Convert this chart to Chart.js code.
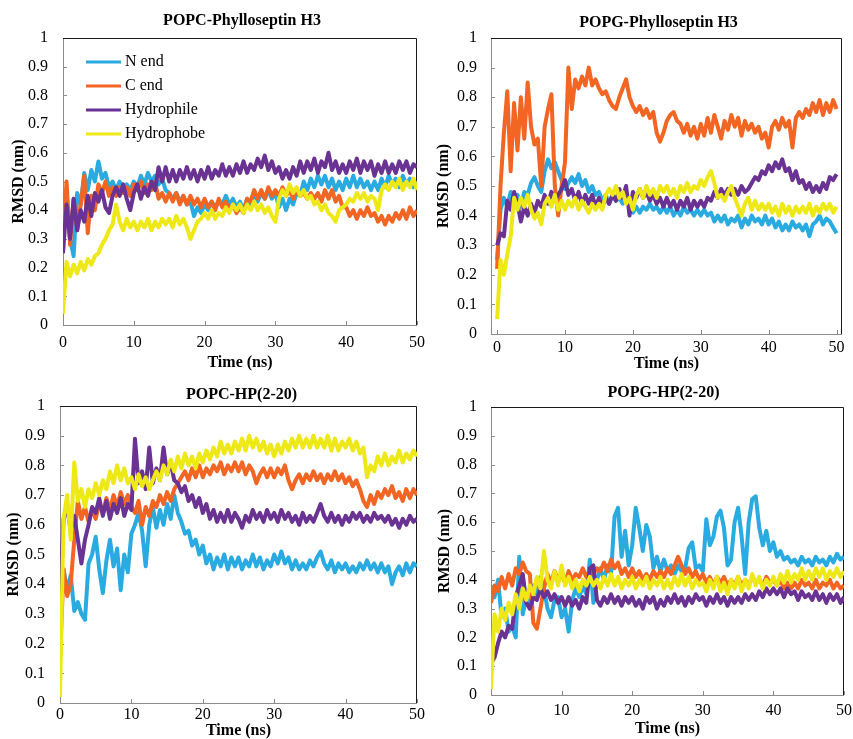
<!DOCTYPE html>
<html>
<head>
<meta charset="utf-8">
<script src="https://cdn.jsdelivr.net/npm/chart.js@4.4.0/dist/chart.umd.min.js"></script>
<style>
  body { margin: 0; background: #fff; width: 853px; height: 739px; overflow: hidden; position: relative; }
  canvas { position: absolute; }
</style>
</head>
<body>
<canvas id="popcH3" width="430" height="380" style="left:0;top:0"></canvas>
<canvas id="popgH3" width="423" height="380" style="left:430px;top:0"></canvas>
<canvas id="popcHP" width="430" height="372" style="left:0;top:372px"></canvas>
<canvas id="popgHP" width="423" height="372" style="left:430px;top:372px"></canvas>
<script>
const times = [
  0, 0.5, 1, 1.5, 2, 2.5, 3, 3.5, 4, 4.5,
  5, 5.5, 6, 6.5, 7, 7.5, 8, 8.5, 9, 9.5,
  10, 10.5, 11, 11.5, 12, 12.5, 13, 13.5, 14, 14.5,
  15, 15.5, 16, 16.5, 17, 17.5, 18, 18.5, 19, 19.5,
  20, 20.5, 21, 21.5, 22, 22.5, 23, 23.5, 24, 24.5,
  25, 25.5, 26, 26.5, 27, 27.5, 28, 28.5, 29, 29.5,
  30, 30.5, 31, 31.5, 32, 32.5, 33, 33.5, 34, 34.5,
  35, 35.5, 36, 36.5, 37, 37.5, 38, 38.5, 39, 39.5,
  40, 40.5, 41, 41.5, 42, 42.5, 43, 43.5, 44, 44.5,
  45, 45.5, 46, 46.5, 47, 47.5, 48, 48.5, 49, 49.5,
  50
];
const seriesNames = ["N end", "C end", "Hydrophile", "Hydrophobe"];
const seriesColors = ["#29aae1", "#f26522", "#6a3292", "#eee816"];
const xTicks = [0, 10, 20, 30, 40, 50];
const yTicks = [0, 0.1, 0.2, 0.3, 0.4, 0.5, 0.6, 0.7, 0.8, 0.9, 1];

// POPC - Phylloseptin H3 (RMSD, nm)
const popcH3NEnd = [
  0.38,0.44,0.30,0.24,0.46,0.42,0.53,0.47,0.54,0.50,
  0.57,0.51,0.53,0.48,0.50,0.47,0.50,0.46,0.49,0.47,
  0.50,0.48,0.52,0.49,0.53,0.50,0.52,0.49,0.51,0.47,
  0.46,0.44,0.46,0.43,0.45,0.42,0.43,0.38,0.41,0.39,
  0.42,0.40,0.43,0.41,0.43,0.42,0.45,0.42,0.44,0.41,
  0.43,0.40,0.44,0.42,0.46,0.43,0.46,0.44,0.47,0.44,
  0.46,0.41,0.44,0.40,0.44,0.42,0.46,0.45,0.50,0.47,
  0.51,0.48,0.52,0.49,0.52,0.48,0.51,0.47,0.50,0.47,
  0.51,0.48,0.52,0.48,0.51,0.48,0.50,0.47,0.50,0.47,
  0.51,0.48,0.52,0.49,0.51,0.48,0.52,0.49,0.51,0.48,
  0.50
];
const popcH3CEnd = [
  0.30,0.50,0.28,0.44,0.33,0.42,0.52,0.32,0.45,0.40,
  0.49,0.46,0.50,0.45,0.48,0.45,0.48,0.46,0.48,0.45,
  0.49,0.47,0.50,0.46,0.49,0.47,0.50,0.44,0.46,0.43,
  0.46,0.43,0.46,0.42,0.45,0.42,0.45,0.42,0.44,0.41,
  0.44,0.41,0.43,0.40,0.44,0.41,0.43,0.40,0.42,0.39,
  0.41,0.39,0.44,0.43,0.47,0.44,0.47,0.44,0.48,0.45,
  0.47,0.45,0.48,0.45,0.47,0.44,0.47,0.45,0.46,0.44,
  0.46,0.44,0.46,0.43,0.47,0.44,0.47,0.43,0.45,0.41,
  0.41,0.38,0.40,0.37,0.40,0.38,0.41,0.38,0.39,0.36,
  0.38,0.35,0.38,0.36,0.39,0.37,0.40,0.37,0.41,0.38,
  0.40
];
const popcH3Philic = [
  0.25,0.42,0.30,0.44,0.33,0.40,0.36,0.45,0.38,0.46,
  0.43,0.47,0.41,0.39,0.45,0.48,0.45,0.49,0.44,0.40,
  0.46,0.49,0.44,0.48,0.45,0.50,0.47,0.55,0.50,0.55,
  0.50,0.54,0.50,0.54,0.51,0.55,0.51,0.54,0.50,0.54,
  0.51,0.55,0.51,0.54,0.52,0.56,0.52,0.55,0.52,0.56,
  0.53,0.57,0.53,0.56,0.54,0.58,0.55,0.59,0.54,0.57,
  0.53,0.55,0.51,0.54,0.51,0.55,0.52,0.57,0.53,0.57,
  0.54,0.58,0.53,0.57,0.55,0.60,0.54,0.57,0.53,0.56,
  0.53,0.57,0.54,0.58,0.53,0.57,0.54,0.57,0.52,0.56,
  0.53,0.57,0.53,0.56,0.53,0.57,0.54,0.57,0.53,0.56,
  0.55
];
const popcH3Phobic = [
  0.04,0.22,0.17,0.21,0.18,0.22,0.19,0.23,0.21,0.24,
  0.25,0.28,0.30,0.33,0.35,0.42,0.36,0.33,0.37,0.34,
  0.36,0.33,0.36,0.34,0.37,0.33,0.36,0.34,0.37,0.35,
  0.37,0.34,0.38,0.35,0.37,0.34,0.30,0.33,0.36,0.37,
  0.39,0.37,0.40,0.37,0.39,0.38,0.41,0.39,0.42,0.40,
  0.42,0.39,0.42,0.40,0.43,0.40,0.42,0.39,0.41,0.38,
  0.36,0.44,0.47,0.45,0.49,0.46,0.48,0.45,0.47,0.44,
  0.45,0.42,0.43,0.40,0.42,0.39,0.38,0.36,0.40,0.41,
  0.42,0.44,0.43,0.46,0.44,0.46,0.43,0.45,0.44,0.40,
  0.47,0.49,0.47,0.50,0.48,0.51,0.47,0.50,0.48,0.51,
  0.47
];

// POPG - Phylloseptin H3
const popgH3NEnd = [
  0.25,0.42,0.46,0.43,0.48,0.44,0.47,0.43,0.48,0.47,
  0.51,0.53,0.50,0.48,0.55,0.59,0.56,0.58,0.55,0.52,
  0.49,0.51,0.53,0.51,0.54,0.50,0.52,0.48,0.50,0.47,
  0.48,0.45,0.47,0.44,0.47,0.45,0.46,0.44,0.46,0.44,
  0.41,0.43,0.41,0.43,0.42,0.44,0.42,0.43,0.41,0.43,
  0.41,0.43,0.40,0.42,0.40,0.43,0.41,0.42,0.40,0.42,
  0.40,0.42,0.40,0.41,0.38,0.40,0.38,0.40,0.37,0.39,
  0.38,0.40,0.36,0.39,0.37,0.40,0.38,0.39,0.37,0.40,
  0.37,0.39,0.36,0.38,0.35,0.37,0.35,0.38,0.36,0.37,
  0.35,0.37,0.33,0.37,0.38,0.40,0.37,0.39,0.38,0.36,
  0.34
];
const popgH3CEnd = [
  0.22,0.50,0.68,0.82,0.55,0.78,0.62,0.80,0.66,0.85,
  0.70,0.64,0.66,0.50,0.70,0.76,0.81,0.50,0.40,0.50,
  0.58,0.90,0.76,0.86,0.83,0.87,0.84,0.90,0.84,0.86,
  0.83,0.81,0.82,0.79,0.77,0.76,0.80,0.83,0.86,0.80,
  0.77,0.75,0.77,0.74,0.76,0.73,0.75,0.68,0.65,0.68,
  0.72,0.74,0.75,0.72,0.71,0.68,0.71,0.67,0.70,0.66,
  0.71,0.67,0.73,0.68,0.74,0.70,0.66,0.72,0.69,0.74,
  0.70,0.73,0.67,0.72,0.69,0.71,0.68,0.70,0.66,0.68,
  0.63,0.70,0.72,0.69,0.73,0.70,0.72,0.63,0.73,0.75,
  0.73,0.76,0.74,0.78,0.75,0.79,0.74,0.78,0.75,0.79,
  0.76
];
const popgH3Philic = [
  0.30,0.34,0.33,0.45,0.42,0.48,0.44,0.38,0.43,0.40,
  0.44,0.41,0.45,0.43,0.47,0.44,0.48,0.45,0.47,0.49,
  0.52,0.47,0.49,0.45,0.48,0.44,0.47,0.44,0.47,0.43,
  0.46,0.43,0.46,0.44,0.47,0.45,0.49,0.46,0.50,0.40,
  0.48,0.46,0.49,0.46,0.48,0.45,0.47,0.44,0.46,0.43,
  0.46,0.43,0.45,0.42,0.45,0.43,0.46,0.42,0.45,0.43,
  0.45,0.43,0.46,0.45,0.48,0.46,0.49,0.47,0.49,0.47,
  0.49,0.47,0.50,0.48,0.49,0.51,0.53,0.52,0.55,0.54,
  0.57,0.55,0.58,0.56,0.59,0.55,0.56,0.52,0.55,0.51,
  0.52,0.49,0.51,0.48,0.50,0.48,0.51,0.49,0.53,0.52,
  0.54
];
const popgH3Phobic = [
  0.05,0.25,0.20,0.27,0.33,0.46,0.42,0.46,0.43,0.47,
  0.42,0.39,0.41,0.37,0.44,0.46,0.43,0.47,0.42,0.45,
  0.42,0.45,0.43,0.46,0.42,0.45,0.43,0.41,0.44,0.42,
  0.44,0.42,0.47,0.49,0.47,0.50,0.46,0.48,0.44,0.46,
  0.42,0.47,0.49,0.46,0.50,0.47,0.49,0.46,0.50,0.48,
  0.50,0.47,0.49,0.46,0.50,0.48,0.51,0.48,0.50,0.49,
  0.52,0.50,0.53,0.55,0.51,0.46,0.47,0.45,0.48,0.50,
  0.46,0.43,0.40,0.44,0.46,0.42,0.45,0.42,0.44,0.42,
  0.44,0.41,0.43,0.40,0.44,0.41,0.43,0.40,0.43,0.41,
  0.43,0.41,0.44,0.40,0.43,0.41,0.44,0.42,0.44,0.41,
  0.43
];

// POPC - HP(2-20)
const popcHPNEnd = [
  0.42,0.45,0.38,0.43,0.31,0.34,0.30,0.28,0.47,0.50,
  0.56,0.45,0.37,0.48,0.55,0.46,0.52,0.38,0.50,0.44,
  0.57,0.60,0.64,0.58,0.46,0.60,0.66,0.59,0.65,0.60,
  0.67,0.62,0.70,0.64,0.61,0.57,0.58,0.53,0.55,0.50,
  0.53,0.47,0.50,0.45,0.49,0.46,0.50,0.45,0.49,0.46,
  0.49,0.45,0.48,0.46,0.50,0.46,0.49,0.45,0.48,0.46,
  0.50,0.47,0.51,0.47,0.49,0.45,0.48,0.45,0.47,0.45,
  0.48,0.46,0.49,0.51,0.47,0.45,0.48,0.44,0.47,0.45,
  0.47,0.44,0.46,0.44,0.47,0.45,0.48,0.45,0.47,0.44,
  0.47,0.44,0.46,0.40,0.44,0.46,0.43,0.47,0.44,0.47,
  0.46
];
const popcHPCEnd = [
  0.15,0.45,0.36,0.40,0.55,0.68,0.62,0.66,0.61,0.65,
  0.62,0.67,0.64,0.69,0.65,0.70,0.66,0.71,0.67,0.70,
  0.66,0.64,0.68,0.60,0.66,0.63,0.68,0.66,0.70,0.67,
  0.71,0.68,0.72,0.74,0.76,0.78,0.75,0.79,0.76,0.80,
  0.76,0.79,0.77,0.80,0.78,0.81,0.77,0.80,0.78,0.81,
  0.78,0.81,0.77,0.80,0.78,0.74,0.77,0.79,0.76,0.79,
  0.76,0.79,0.77,0.80,0.75,0.72,0.75,0.77,0.74,0.77,
  0.75,0.78,0.75,0.77,0.74,0.77,0.75,0.78,0.75,0.77,
  0.74,0.76,0.73,0.75,0.72,0.68,0.66,0.70,0.67,0.71,
  0.69,0.72,0.70,0.73,0.69,0.71,0.68,0.72,0.69,0.72,
  0.70
];
const popcHPPhilic = [
  0.35,0.62,0.66,0.58,0.63,0.55,0.47,0.55,0.60,0.66,
  0.64,0.69,0.63,0.68,0.62,0.67,0.64,0.69,0.63,0.67,
  0.65,0.89,0.74,0.78,0.72,0.86,0.74,0.79,0.75,0.86,
  0.77,0.81,0.75,0.74,0.71,0.73,0.68,0.70,0.66,0.69,
  0.64,0.67,0.62,0.65,0.61,0.64,0.61,0.65,0.61,0.64,
  0.62,0.59,0.63,0.61,0.65,0.62,0.64,0.61,0.65,0.62,
  0.64,0.61,0.65,0.62,0.64,0.61,0.63,0.60,0.64,0.61,
  0.63,0.61,0.64,0.67,0.63,0.61,0.64,0.61,0.63,0.60,
  0.63,0.61,0.64,0.62,0.64,0.61,0.63,0.61,0.64,0.62,
  0.63,0.61,0.63,0.60,0.62,0.59,0.62,0.60,0.63,0.61,
  0.62
];
const popcHPPhobic = [
  0.02,0.62,0.70,0.55,0.81,0.68,0.72,0.66,0.72,0.69,
  0.74,0.70,0.75,0.72,0.78,0.74,0.80,0.75,0.79,0.74,
  0.76,0.72,0.77,0.73,0.76,0.72,0.75,0.78,0.75,0.80,
  0.77,0.82,0.78,0.83,0.79,0.84,0.80,0.83,0.79,0.84,
  0.81,0.85,0.82,0.86,0.83,0.88,0.84,0.87,0.84,0.88,
  0.85,0.89,0.85,0.90,0.86,0.89,0.85,0.88,0.84,0.87,
  0.83,0.87,0.84,0.88,0.85,0.89,0.86,0.90,0.86,0.89,
  0.86,0.90,0.86,0.89,0.86,0.90,0.85,0.89,0.85,0.88,
  0.86,0.89,0.85,0.88,0.84,0.86,0.76,0.80,0.78,0.83,
  0.80,0.84,0.80,0.83,0.81,0.85,0.81,0.84,0.82,0.85,
  0.83
];

// POPG - HP(2-20)
const popgHPNEnd = [
  0.38,0.34,0.40,0.27,0.30,0.22,0.24,0.20,0.48,0.28,
  0.34,0.30,0.38,0.35,0.41,0.37,0.30,0.27,0.33,0.34,
  0.27,0.30,0.22,0.33,0.37,0.34,0.38,0.35,0.47,0.32,
  0.40,0.44,0.40,0.45,0.42,0.62,0.65,0.48,0.57,0.45,
  0.52,0.65,0.58,0.50,0.59,0.55,0.44,0.48,0.43,0.47,
  0.43,0.45,0.42,0.45,0.43,0.44,0.51,0.53,0.44,0.45,
  0.43,0.61,0.52,0.55,0.62,0.64,0.58,0.45,0.47,0.60,
  0.65,0.55,0.42,0.60,0.68,0.69,0.58,0.52,0.57,0.50,
  0.53,0.48,0.50,0.47,0.48,0.46,0.47,0.45,0.48,0.46,
  0.47,0.45,0.48,0.46,0.47,0.45,0.48,0.46,0.49,0.47,
  0.48
];
const popgHPCEnd = [
  0.32,0.38,0.36,0.41,0.37,0.42,0.38,0.44,0.42,0.46,
  0.43,0.42,0.25,0.23,0.30,0.37,0.42,0.39,0.43,0.40,
  0.42,0.39,0.43,0.40,0.42,0.41,0.44,0.41,0.43,0.42,
  0.44,0.43,0.46,0.43,0.47,0.44,0.46,0.42,0.44,0.41,
  0.44,0.41,0.43,0.40,0.42,0.40,0.43,0.41,0.43,0.41,
  0.44,0.42,0.45,0.48,0.45,0.42,0.44,0.41,0.43,0.40,
  0.42,0.39,0.41,0.38,0.41,0.39,0.41,0.38,0.40,0.38,
  0.41,0.38,0.40,0.38,0.41,0.39,0.40,0.38,0.41,0.39,
  0.40,0.38,0.40,0.37,0.39,0.37,0.39,0.37,0.40,0.38,
  0.39,0.37,0.40,0.37,0.39,0.38,0.40,0.37,0.39,0.37,
  0.38
];
const popgHPPhilic = [
  0.11,0.13,0.18,0.22,0.20,0.24,0.23,0.34,0.38,0.42,
  0.32,0.30,0.34,0.33,0.37,0.34,0.36,0.33,0.35,0.32,
  0.34,0.31,0.34,0.31,0.33,0.30,0.34,0.32,0.44,0.45,
  0.33,0.31,0.34,0.32,0.35,0.32,0.34,0.31,0.34,0.32,
  0.34,0.31,0.33,0.30,0.34,0.32,0.34,0.30,0.33,0.31,
  0.34,0.32,0.35,0.32,0.34,0.31,0.34,0.32,0.35,0.33,
  0.34,0.31,0.34,0.32,0.35,0.32,0.34,0.31,0.34,0.32,
  0.34,0.32,0.35,0.33,0.35,0.33,0.36,0.34,0.37,0.35,
  0.37,0.35,0.37,0.34,0.37,0.35,0.36,0.33,0.36,0.34,
  0.35,0.33,0.36,0.33,0.35,0.32,0.35,0.33,0.35,0.32,
  0.34
];
const popgHPPhobic = [
  0.02,0.28,0.22,0.30,0.26,0.32,0.28,0.35,0.30,0.37,
  0.33,0.38,0.35,0.41,0.37,0.50,0.40,0.37,0.43,0.38,
  0.45,0.38,0.41,0.37,0.40,0.36,0.40,0.38,0.41,0.38,
  0.40,0.37,0.41,0.38,0.42,0.38,0.41,0.37,0.40,0.38,
  0.41,0.37,0.40,0.38,0.41,0.37,0.40,0.38,0.41,0.37,
  0.40,0.37,0.41,0.38,0.42,0.38,0.41,0.37,0.40,0.38,
  0.39,0.36,0.40,0.37,0.41,0.36,0.39,0.35,0.40,0.37,
  0.41,0.36,0.40,0.37,0.42,0.38,0.41,0.37,0.40,0.38,
  0.41,0.38,0.42,0.39,0.43,0.39,0.42,0.40,0.44,0.40,
  0.43,0.40,0.44,0.41,0.44,0.40,0.43,0.41,0.44,0.41,
  0.43
];

const serif = "'Liberation Serif', 'Times New Roman', serif";

// plot frame + short inward tick marks, drawn under the traces
const framePlugin = {
  id: 'frame',
  beforeDatasetsDraw(chart) {
    const { ctx, chartArea: a, scales: { x, y } } = chart;
    ctx.save();
    ctx.lineWidth = 1;
    ctx.strokeStyle = '#8c8c8c';
    ctx.beginPath();
    xTicks.forEach(v => {
      const px = Math.round(x.getPixelForValue(v)) + 0.5;
      ctx.moveTo(px, a.bottom);
      ctx.lineTo(px, a.bottom - 4);
    });
    yTicks.forEach(v => {
      const py = Math.round(y.getPixelForValue(v)) + 0.5;
      ctx.moveTo(a.left, py);
      ctx.lineTo(a.left + 4, py);
    });
    ctx.moveTo(a.left + 0.5, a.top);
    ctx.lineTo(a.left + 0.5, a.bottom + 0.5);
    ctx.lineTo(a.right, a.bottom + 0.5);
    ctx.stroke();
    ctx.strokeStyle = '#1a1a1a';
    ctx.beginPath();
    ctx.moveTo(a.left, a.top + 0.5);
    ctx.lineTo(a.right - 0.5, a.top + 0.5);
    ctx.lineTo(a.right - 0.5, a.bottom);
    ctx.stroke();
    ctx.restore();
  }
};

const panelTitle = {
  id: 'panelTitle',
  afterDraw(chart, args, opts) {
    const { ctx, chartArea: a } = chart;
    ctx.save();
    ctx.font = 'bold 16px ' + serif;
    ctx.fillStyle = '#000';
    ctx.textAlign = 'center';
    ctx.textBaseline = 'middle';
    ctx.fillText(opts.text, (a.left + a.right) / 2 + opts.dx, opts.y);
    ctx.restore();
  }
};

const insideLegend = {
  id: 'insideLegend',
  afterDraw(chart, args, opts) {
    const { ctx } = chart;
    ctx.save();
    ctx.font = '16px ' + serif;
    ctx.textBaseline = 'middle';
    ctx.fillStyle = '#000';
    chart.data.datasets.forEach((ds, i) => {
      const y = opts.top + i * opts.gap;
      ctx.strokeStyle = ds.borderColor;
      ctx.lineWidth = 3;
      ctx.beginPath();
      ctx.moveTo(opts.left, y);
      ctx.lineTo(opts.left + 35, y);
      ctx.stroke();
      ctx.fillText(ds.label, opts.left + 39, y);
    });
    ctx.restore();
  }
};

function makePanel(id, title, series, p) {
  const datasets = series.map((vals, i) => ({
    label: seriesNames[i],
    data: vals.map((v, k) => ({ x: times[k], y: v })),
    borderColor: seriesColors[i],
    borderWidth: 4,
    borderJoinStyle: 'round',
    pointRadius: 0,
    tension: 0,
    order: series.length - i
  }));
  new Chart(document.getElementById(id), {
    type: 'line',
    data: { datasets },
    plugins: [framePlugin, panelTitle, insideLegend],
    options: {
      responsive: false,
      animation: false,
      layout: { padding: { left: 0, right: p.padRight, top: p.padTop, bottom: 0 } },
      plugins: {
        legend: { display: false },
        tooltip: { enabled: false },
        panelTitle: { text: title, y: p.titleY, dx: p.titleDx },
        insideLegend: p.legend || false
      },
      scales: {
        x: {
          type: 'linear', min: p.xMin, max: p.xMax,
          afterBuildTicks: s => { s.ticks = xTicks.map(v => ({ value: v })); },
          afterFit: s => { s.height = p.xAxisH; s.paddingLeft = 0; s.paddingRight = 0; },
          grid: { display: false, drawTicks: false },
          border: { display: false },
          ticks: { padding: p.xTickPad, color: '#000', maxRotation: 0, autoSkip: false,
                   font: { family: serif, size: 16 }, callback: v => String(v) },
          title: { display: true, text: 'Time (ns)', color: '#000', padding: { top: 0, bottom: p.xTitlePad }, font: { family: serif, size: 16, weight: 'bold' } }
        },
        y: {
          min: 0, max: 1,
          afterBuildTicks: s => { s.ticks = yTicks.map(v => ({ value: v })); },
          afterFit: s => { s.width = p.yAxisW; s.paddingTop = 0; s.paddingBottom = 0; },
          grid: { display: false, drawTicks: false },
          border: { display: false },
          ticks: { padding: p.yTickPad, color: '#000', font: { family: serif, size: 16 }, callback: v => String(v) },
          title: { display: true, text: 'RMSD (nm)', color: '#000', padding: { top: p.yTitlePad, bottom: 0 }, font: { family: serif, size: 16, weight: 'bold' } }
        }
      }
    }
  });
}

makePanel('popcH3', 'POPC-Phylloseptin H3',
  [popcH3NEnd, popcH3CEnd, popcH3Philic, popcH3Phobic],
  { padTop: 38, padRight: 13, yAxisW: 63, xAxisH: 55, xMin: 0, xMax: 50,
    yTickPad: 15, xTickPad: 8.4, xTitlePad: 7.4, yTitlePad: 9.4, titleY: 21, titleDx: 2,
    legend: { left: 86, top: 62, gap: 24 } });

makePanel('popgH3', 'POPG-Phylloseptin H3',
  [popgH3NEnd, popgH3CEnd, popgH3Philic, popgH3Phobic],
  { padTop: 38, padRight: 11, yAxisW: 61, xAxisH: 46, xMin: -0.9, xMax: 50.8,
    yTickPad: 14, xTickPad: 4.4, xTitlePad: 6.4, yTitlePad: 4.4, titleY: 23, titleDx: -8 });

makePanel('popcHP', 'POPC-HP(2-20)',
  [popcHPNEnd, popcHPCEnd, popcHPPhilic, popcHPPhobic],
  { padTop: 34, padRight: 13, yAxisW: 60, xAxisH: 41, xMin: 0, xMax: 50,
    yTickPad: 15, xTickPad: 2.4, xTitlePad: 3.4, yTitlePad: 4.4, titleY: 23, titleDx: 3 });

makePanel('popgHP', 'POPG-HP(2-20)',
  [popgHPNEnd, popgHPCEnd, popgHPPhilic, popgHPPhobic],
  { padTop: 35, padRight: 9, yAxisW: 61, xAxisH: 49, xMin: 0, xMax: 50,
    yTickPad: 14, xTickPad: 6.4, xTitlePad: 5.4, yTitlePad: 5.4, titleY: 21, titleDx: -4 });
</script>
</body>
</html>
